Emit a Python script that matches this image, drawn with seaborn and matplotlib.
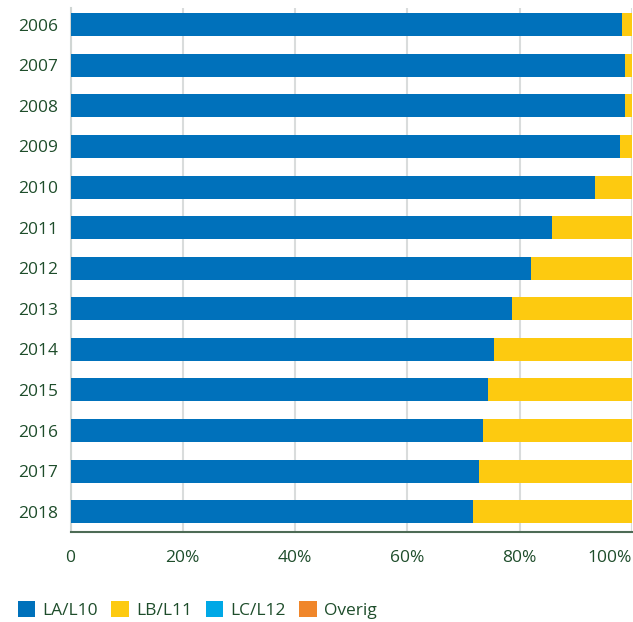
import matplotlib
matplotlib.use("Agg")
import matplotlib.pyplot as plt
import seaborn as sns
import pandas as pd
import numpy as np
from matplotlib.patches import Patch

years = ["2006", "2007", "2008", "2009", "2010", "2011", "2012",
         "2013", "2014", "2015", "2016", "2017", "2018"]
la_l10 = [98.2, 98.7, 98.7, 97.8, 93.4, 85.7, 82.1, 78.7, 75.5, 74.3, 73.4, 72.7, 71.6]
lb_l11 = [100 - v for v in la_l10]
lc_l12 = [0] * 13
overig = [0] * 13
series_names = ["LA/L10", "LB/L11", "LC/L12", "Overig"]
tick_vals = [0, 20, 40, 60, 80, 100]
tick_labels = ["0", "20%", "40%", "60%", "80%", "100%"]

colors = ["#0071bb", "#fdca10", "#00a8e6", "#f0862a"]
text_color = "#1e4d2b"

sns.set_theme(style="white")
plt.rcParams["font.family"] = ["Open Sans", "DejaVu Sans"]

df = pd.DataFrame({"year": years, "LA/L10": la_l10, "LB/L11": lb_l11,
                   "LC/L12": lc_l12, "Overig": overig})
cum = df[series_names].cumsum(axis=1)

fig = plt.figure(figsize=(6.33, 6.22), dpi=100)
ax = fig.add_axes([0.1114, 0.1447, 0.8870, 0.8424])

for name, col in reversed(list(zip(series_names, colors))):
    sns.barplot(x=cum[name], y=df["year"], orient="h", color=col,
                width=0.567, linewidth=0, saturation=1, ax=ax, zorder=3)

ax.set_xlim(0, 100)
ax.set_ylim(12.5, -0.41)
ax.set_xticks(tick_vals)
ax.set_xticklabels(tick_labels)
ax.get_xticklabels()[-1].set_horizontalalignment("right")
ax.set_xlabel("")
ax.set_ylabel("")
ax.tick_params(axis="x", length=0, pad=13, labelsize=12.5, labelcolor=text_color)
ax.tick_params(axis="y", length=0, pad=9, labelsize=12.5, labelcolor=text_color)

ax.grid(axis="x", color="#d9dcdc", linewidth=1.5, zorder=0)
ax.set_axisbelow(True)
for s in ["top", "right"]:
    ax.spines[s].set_visible(False)
ax.spines["left"].set_color("#d0d6d4")
ax.spines["left"].set_linewidth(1.5)
ax.spines["bottom"].set_color("#4d6b55")
ax.spines["bottom"].set_linewidth(1.5)

handles = [Patch(facecolor=c, edgecolor="none", label=n) for n, c in zip(series_names, colors)]
fig.legend(handles=handles, loc="center left", bbox_to_anchor=(0.003, 0.019),
           ncol=4, frameon=False, fontsize=12.5, handlelength=1.0, handleheight=1.0,
           handletextpad=0.45, columnspacing=0.75, labelcolor=text_color)

fig.savefig("out.png", dpi=100)
